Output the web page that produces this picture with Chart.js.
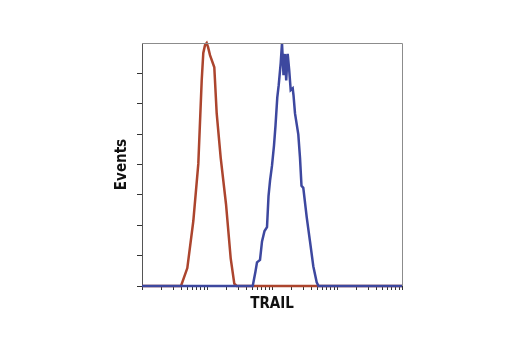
<!DOCTYPE html>
<html>
<head>
<meta charset="utf-8">
<script src="https://cdn.jsdelivr.net/npm/chart.js@4"></script>
<style>
  html, body { margin: 0; padding: 0; background: #fff; }
  #wrap { width: 520px; height: 350px; }
</style>
</head>
<body>
<div id="wrap"><canvas id="histo" width="520" height="350"></canvas></div>
<script>
'use strict';

// ── Data (x = TRAIL intensity, log scale; y = events) ──────────────────
var isoX = [1, 3.98, 4.98, 6.16, 7.35, 8.29, 8.77, 9.32, 9.89, 10.36, 11.12, 12.95, 14.1, 16.25, 19.6, 23.15, 26.3, 28.64, 10000];
var isoY = [0, 0, 59, 214, 402, 677, 767, 793, 800, 787, 760, 720, 568, 422, 270, 91, 8, 0, 0];

var trailX = [1, 50.5, 55.7, 58.8, 65.4, 70.2, 76.7, 83.8, 88.4, 93.2, 100, 107.3, 113.2, 120.6, 126.8, 136.1, 142.5,
  150.3, 158.5, 165.4, 174.4, 183.9, 194, 208.2, 214.2, 225.9, 253.9, 269.7, 284.3, 303, 341.9, 384.2, 431.9, 487.2, 519.3, 10000];
var trailY = [0, 0, 48, 78, 86, 147, 181, 194, 296, 346, 396, 462, 528, 621, 661, 734, 800,
  694, 764, 677, 764, 711, 645, 651, 628, 568, 499, 422, 330, 323, 227, 147, 65, 12, 0, 0];

var xTickValues = [1, 2, 3, 4, 5, 6, 7, 8, 9, 10, 20, 30, 40, 50, 60, 70, 80, 90, 100,
  200, 300, 400, 500, 600, 700, 800, 900, 1000, 2000, 3000, 4000, 5000, 6000, 7000, 8000, 9000, 10000];
var yTickValues = [0, 100, 200, 300, 400, 500, 600, 700];

function toPoints(xs, ys) {
  return xs.map(function(x, i){ return { x: x, y: ys[i] }; });
}

// frame on top/right of the plot area
var framePlugin = {
  id: 'frame',
  afterDraw: function(chart) {
    var a = chart.chartArea, ctx = chart.ctx;
    ctx.save();
    ctx.strokeStyle = '#8c8c8c';
    ctx.lineWidth = 1;
    ctx.beginPath();
    ctx.moveTo(a.left, a.top + 0.5);
    ctx.lineTo(a.right + 0.5, a.top + 0.5);
    ctx.lineTo(a.right + 0.5, a.bottom);
    ctx.stroke();
    ctx.restore();
  }
};

var titleFont = { family: "'DejaVu Sans Condensed', 'DejaVu Sans', sans-serif", size: 15, weight: 'bold', lineHeight: 1.2 };

// blue is listed first so it is painted over the isotype baseline
new Chart(document.getElementById('histo'), {
  type: 'line',
  data: {
    datasets: [
      {
        label: 'TRAIL',
        data: toPoints(trailX, trailY),
        borderColor: '#3d489f',
        borderWidth: 2.5,
        pointRadius: 0,
        tension: 0,
        fill: false,
        clip: 3
      },
      {
        label: 'Isotype',
        data: toPoints(isoX, isoY),
        borderColor: '#ac452e',
        borderWidth: 2.5,
        pointRadius: 0,
        tension: 0,
        fill: false,
        clip: 3
      }
    ]
  },
  options: {
    responsive: false,
    animation: false,
    layout: { padding: { left: 113, right: 118, top: 43, bottom: 37 } },
    plugins: { legend: { display: false }, tooltip: { enabled: false } },
    scales: {
      x: {
        type: 'logarithmic',
        min: 1, max: 10000,
        afterBuildTicks: function(scale) {
          scale.ticks = xTickValues.map(function(v){ return { value: v }; });
        },
        ticks: { display: false },
        grid: { drawOnChartArea: false, drawTicks: true, tickLength: 4, tickColor: '#333', tickWidth: 1 },
        border: { display: true, color: '#333', width: 1 },
        title: { display: true, text: 'TRAIL', color: '#111', font: titleFont, padding: { top: 5, bottom: 0 } }
      },
      y: {
        type: 'linear',
        min: 0, max: 800,
        afterBuildTicks: function(scale) {
          scale.ticks = yTickValues.map(function(v){ return { value: v }; });
        },
        ticks: { display: false },
        grid: { drawOnChartArea: false, drawTicks: true, tickLength: 5, tickColor: '#333', tickWidth: 1 },
        border: { display: true, color: '#555', width: 1 },
        title: { display: true, text: 'Events', color: '#111', font: titleFont, padding: { top: 0, bottom: 6 } }
      }
    }
  },
  plugins: [framePlugin]
});
</script>
</body>
</html>
